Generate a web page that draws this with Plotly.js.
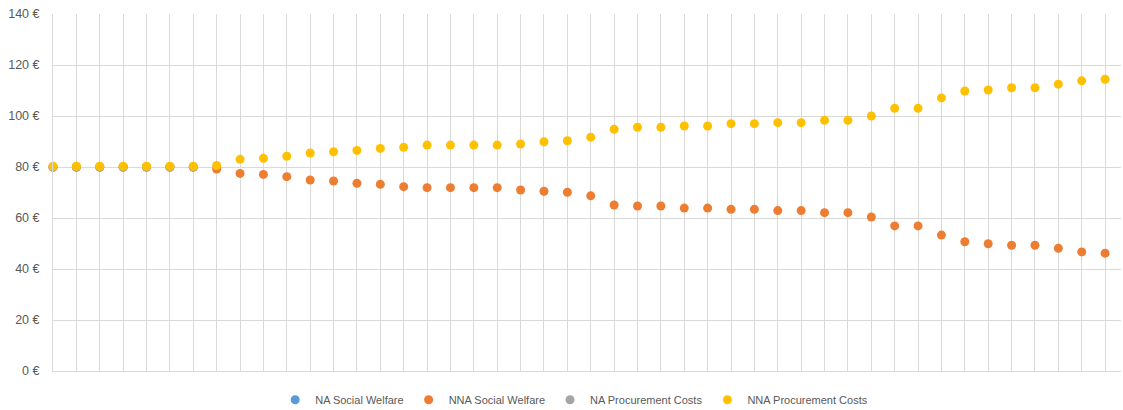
<!DOCTYPE html>
<html>
<head>
<meta charset="utf-8">
<script src="https://cdn.plot.ly/plotly-3.0.1.min.js"></script>
<style>html,body{margin:0;padding:0;background:#fff;}#chart{width:1123px;height:410px;}</style>
</head>
<body>
<div id="chart"></div>
<script>
// Scenario index (category positions)
const steps = [0,1,2,3,4,5,6,7,8,9,10,11,12,13,14,15,16,17,18,19,20,21,22,23,24,25,26,27,28,29,30,31,32,33,34,35,36,37,38,39,40,41,42,43,44,45];

// NA series (hidden behind NNA points in the reference)
const naSteps = [0,1,2,3,4,5,6];
const naSocialWelfare = [80,80,80,80,80,80,80];
const naProcurementCosts = [80,80,80,80,80,80,80];

const nnaSocialWelfare = [
  80,80,80,80,80,80,80,79.2,77.5,77.1,
  76.2,74.9,74.5,73.6,73.2,72.3,71.9,71.9,71.9,71.9,
  71.0,70.5,70.1,68.7,65.1,64.7,64.7,63.9,63.9,63.4,
  63.4,62.9,62.9,62.1,62.1,60.4,56.9,56.9,53.3,50.7,
  49.9,49.3,49.3,48.1,46.7,46.2
];
const nnaProcurementCosts = [
  80.3,80.3,80.3,80.3,80.3,80.3,80.3,80.6,83.0,83.4,
  84.2,85.5,86.0,86.5,87.3,87.7,88.6,88.6,88.6,88.6,
  89.0,89.9,90.3,91.7,94.8,95.6,95.6,96.1,96.1,97.0,
  97.0,97.4,97.4,98.3,98.3,100.0,103.0,103.0,107.1,109.8,
  110.2,111.1,111.1,112.5,113.8,114.4
];

const yTicks = [0,20,40,60,80,100,120,140];
const yTickLabels = ["0 €","20 €","40 €","60 €","80 €","100 €","120 €","140 €"];

const seriesNames = ["NA Social Welfare","NNA Social Welfare","NA Procurement Costs","NNA Procurement Costs"];
const colors = ["#5B9BD5","#ED7D31","#A5A5A5","#FFC000"];

const mk = (x, y, i) => ({
  x: x, y: y, name: seriesNames[i], type: 'scatter', mode: 'markers',
  cliponaxis: false,
  marker: {color: colors[i], size: 9, line: {width: 0}},
  hoverinfo: 'y'
});

const traces = [
  mk(naSteps, naSocialWelfare, 0),
  mk(steps, nnaSocialWelfare, 1),
  mk(naSteps, naProcurementCosts, 2),
  mk(steps, nnaProcurementCosts, 3)
];

const layout = {
  width: 1123, height: 410,
  margin: {l: 53, r: 2, t: 14, b: 39, autoexpand: false},
  paper_bgcolor: '#ffffff', plot_bgcolor: '#ffffff',
  font: {family: 'Liberation Sans, Arial, sans-serif', size: 12, color: '#595959'},
  showlegend: true,
  legend: {
    orientation: 'h', x: 0.488, xanchor: 'center',
    yref: 'container', y: 0.025, yanchor: 'middle',
    font: {size: 11, color: '#595959'}, itemwidth: 30,
    traceorder: 'normal'
  },
  xaxis: {
    range: [0, 45.68], dtick: 1, tick0: 0, showticklabels: false,
    showgrid: true, gridcolor: '#d9d9d9', gridwidth: 1,
    zeroline: false, showline: true, linecolor: '#d9d9d9', linewidth: 1,
    ticks: '', fixedrange: true
  },
  yaxis: {
    range: [0, 140], tickvals: yTicks, ticktext: yTickLabels,
    showgrid: true, gridcolor: '#d9d9d9', gridwidth: 1,
    zeroline: false, showline: true, linecolor: '#d9d9d9', linewidth: 1,
    ticks: '', ticklabelstandoff: 10, tickfont: {size: 12.5, color: '#595959'},
    fixedrange: true
  }
};

Plotly.newPlot('chart', traces, layout, {displayModeBar: false, staticPlot: true});
</script>
</body>
</html>
